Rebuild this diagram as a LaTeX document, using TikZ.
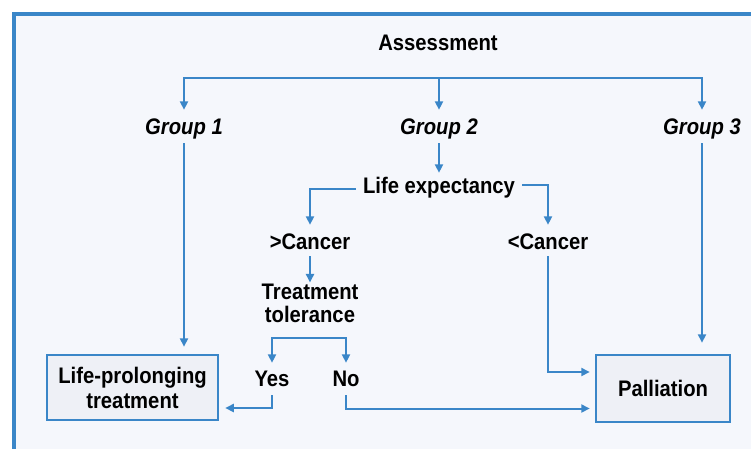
\documentclass[tikz,border=0pt]{standalone}
\usepackage{fontspec}
\setmainfont{Liberation Sans}[FakeStretch=0.9]
\usetikzlibrary{arrows.meta,calc}
\definecolor{fblue}{RGB}{58,134,200}
\definecolor{bgc}{RGB}{245,247,252}
\definecolor{boxc}{RGB}{238,240,246}
\begin{document}
\begin{tikzpicture}[x=1pt,y=-1pt,
  lbl/.style={font=\fontsize{22.5}{24}\selectfont\bfseries, text height=16pt, text depth=4pt, inner sep=0pt, anchor=base},
  glbl/.style={lbl, font=\fontsize{22.5}{24}\selectfont\bfseries\itshape},
  mlbl/.style={font=\fontsize{22.5}{23}\selectfont\bfseries, align=center, inner sep=0pt},
  conn/.style={draw=fblue, line width=2pt},
  arr/.style={conn, -{Triangle[length=8.5pt,width=8pt]}},
  arrtwo/.style={conn, {Triangle[length=8.5pt,width=8pt]}-{Triangle[length=8.5pt,width=8pt]}},
  boxn/.style={draw=fblue, line width=2.5pt, fill=boxc, font=\fontsize{22.5}{25}\selectfont\bfseries, align=center, inner sep=0pt}]
\useasboundingbox (0,0) rectangle (751,448);
\clip (0,0) rectangle (751,448);
\fill[white] (0,0) rectangle (751,448);
\draw[fblue, line width=3.5pt, fill=bgc] (14,14) rectangle (780,480);

% nodes
\node[lbl] (assess) at (438,50.5) {Assessment};
\node[glbl] (g1) at (184,134) {Group 1};
\node[glbl] (g2) at (439,134) {Group 2};
\node[glbl] (g3) at (702,134) {Group 3};
\node[lbl] (le) at (439,193) {Life expectancy};
\node[lbl] (gc) at (310,249) {>Cancer};
\node[lbl] (lc) at (548,249) {<Cancer};
\node[mlbl] (tt) at (310,303) {Treatment\\tolerance};
\node[lbl] (yes) at (272,386) {Yes};
\node[lbl] (no) at (346,386) {No};
\node[boxn, minimum width=171pt, minimum height=65pt] (lp) at (132.5,387.5) {Life-prolonging\\treatment};
\node[boxn, minimum width=134pt, minimum height=67pt] (pal) at (663,388.5) {Palliation};
\coordinate (bar) at (438,78);
\coordinate (br) at (310,338);
\coordinate (leL) at ([xshift=-7pt,yshift=-1.5pt]le.west);
\coordinate (leR) at ([xshift=7pt,yshift=2.5pt]le.east);
\coordinate (palA) at ([yshift=16.5pt]pal.west);
\coordinate (palB) at ([yshift=-20pt]pal.west);
\coordinate (lpB) at ([yshift=-20.5pt]lp.east);

% connectors
\draw[arrtwo, shorten <=8pt, shorten >=8pt] (g1.north) -- (g1.north |- bar) -- (g3.north |- bar) -- (g3.north);
\draw[arr, shorten >=8pt] (g2.north |- bar) -- (g2.north);
\draw[arr, shorten <=5pt, shorten >=7pt] (g1.south) -- (g1.south |- lp.north);
\draw[arr, shorten <=5pt, shorten >=11pt] (g3.south) -- (g3.south |- pal.north);
\draw[arr, shorten <=5pt, shorten >=4pt] (g2.south) -- (le.north);
\draw[arr, shorten >=8pt] (leL) -- (gc.north |- leL) -- (gc.north);
\draw[arr, shorten >=8pt] (leR) -- (lc.north |- leR) -- (lc.north);
\draw[arr, shorten <=3pt, shorten >=1pt] (gc.south) -- (tt.north);
\draw[arr, shorten <=3pt, shorten >=5pt] (lc.south) -- (lc.south |- palA) -- (palA);
\draw[arrtwo, shorten <=7pt, shorten >=7pt] (yes.north) -- (yes.north |- br) -- (no.north |- br) -- (no.north);
\draw[arr, shorten <=5pt, shorten >=6pt] (yes.south) -- (yes.south |- lpB) -- (lpB);
\draw[arr, shorten <=5pt, shorten >=5pt] (no.south) -- (no.south |- palB) -- (palB);
\end{tikzpicture}
\end{document}
